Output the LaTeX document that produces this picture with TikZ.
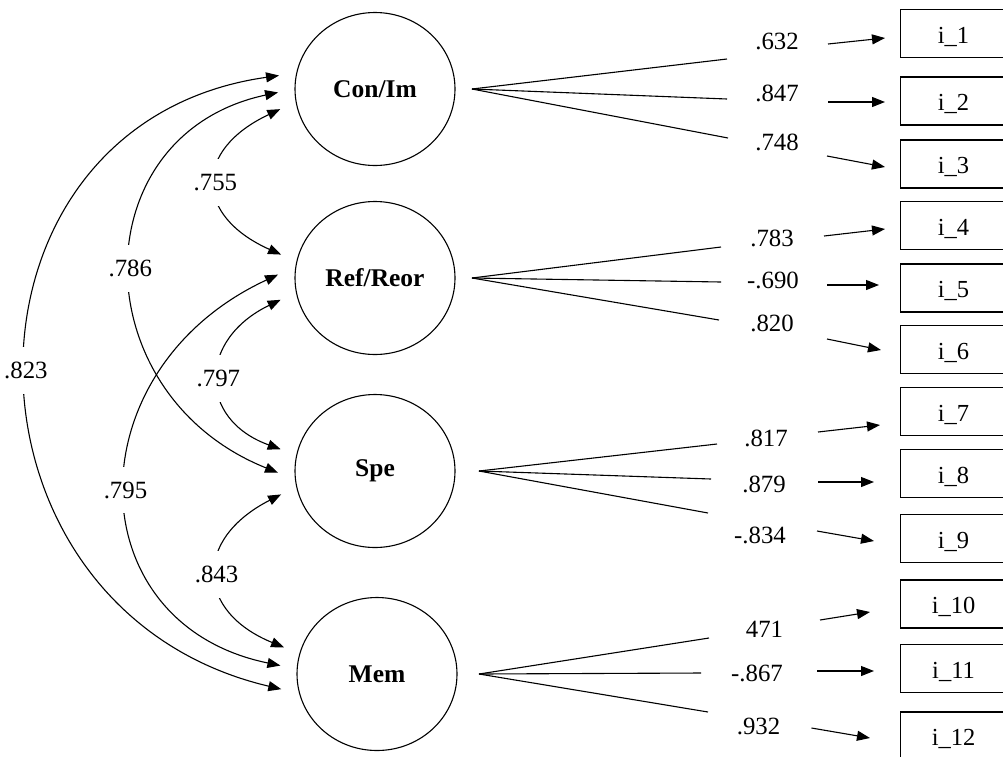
\documentclass[tikz,border=0pt]{standalone}
\usepackage{fontspec}
\setmainfont{Liberation Serif}
\usetikzlibrary{shapes.geometric,arrows.meta,positioning}

\begin{document}
\begin{tikzpicture}[x=1pt, y=-1pt, line width=1.1pt,
	>={Triangle[length=13pt,width=10pt]},
	every node/.style={font=\fontsize{24.8}{29}\selectfont},
	latent/.style={ellipse, draw, minimum width=160pt, minimum height=153pt, outer sep=17pt, font=\fontsize{25.5}{30}\selectfont\bfseries},
	item/.style={rectangle, draw, anchor=west, minimum width=106pt, minimum height=48pt, text height=19pt, text depth=0pt, font=\fontsize{24.5}{29}\selectfont},
	coef/.style={inner sep=2pt},
	corr/.style={fill=white, inner xsep=4pt, inner ysep=15pt}]
	\useasboundingbox (0,0) rectangle (1003,756);

	% factors
	\node[latent] (con) at (375,89) {Con/Im};
	\node[latent] (ref) at (375,278) {Ref/Reor};
	\node[latent] (spe) at (375,471) {Spe};
	\node[latent] (mem) at (377,674) {Mem};

	% observed items
	\node[item] (i1) at (900,33.5) {i\_1};
	\node[item] (i2) at (900,101) {i\_2};
	\node[item] (i3) at (900,164) {i\_3};
	\node[item] (i4) at (900,225.5) {i\_4};
	\node[item] (i5) at (900,288) {i\_5};
	\node[item] (i6) at (900,349.5) {i\_6};
	\node[item] (i7) at (900,411.5) {i\_7};
	\node[item] (i8) at (900,473.5) {i\_8};
	\node[item] (i9) at (900,538.5) {i\_9};
	\node[item] (i10) at (900,604) {i\_10};
	\node[item] (i11) at (900,668.5) {i\_11};
	\node[item] (i12) at (900,736) {i\_12};

	% loadings
	\node[coef] (l1) at (777,41) {.632};
	\node[coef] (l2) at (777,93.5) {.847};
	\node[coef] (l3) at (777,142) {.748};
	\node[coef] (l4) at (772,238) {.783};
	\node[coef] (l5) at (773,280) {-.690};
	\node[coef] (l6) at (772,323) {.820};
	\node[coef] (l7) at (766,438.5) {.817};
	\node[coef] (l8) at (764,484) {.879};
	\node[coef] (l9) at (760,535) {-.834};
	\node[coef] (l10) at (764.5,629.5) {471};
	\node[coef] (l11) at (757,673) {-.867};
	\node[coef] (l12) at (758.5,726) {.932};

	\coordinate (e1) at (727,59);
	\coordinate (e2) at (727,99);
	\coordinate (e3) at (728,138);
	\coordinate (e4) at (721,247);
	\coordinate (e5) at (721,282);
	\coordinate (e6) at (719,320);
	\coordinate (e7) at (717,444);
	\coordinate (e8) at (711,479);
	\coordinate (e9) at (708,513);
	\coordinate (e10) at (709,638);
	\coordinate (e11) at (701,673);
	\coordinate (e12) at (708,712);

	\draw (con.east) -- (e1);
	\draw (con.east) -- (e2);
	\draw (con.east) -- (e3);
	\draw (ref.east) -- (e4);
	\draw (ref.east) -- (e5);
	\draw (ref.east) -- (e6);
	\draw ([xshift=7pt]spe.east) -- (e7);
	\draw ([xshift=7pt]spe.east) -- (e8);
	\draw ([xshift=7pt]spe.east) -- (e9);
	\draw ([xshift=5pt]mem.east) -- (e10);
	\draw ([xshift=5pt]mem.east) -- (e11);
	\draw ([xshift=5pt]mem.east) -- (e12);

	\coordinate (s1) at (828,44);
	\coordinate (s2) at (828,102);
	\coordinate (s3) at (827,156);
	\coordinate (s4) at (824,236);
	\coordinate (s5) at (827,285);
	\coordinate (s6) at (827,339);
	\coordinate (s7) at (818,432);
	\coordinate (s8) at (818,482);
	\coordinate (s9) at (817,531);
	\coordinate (s10) at (820,620);
	\coordinate (s11) at (817,671);
	\coordinate (s12) at (811.5,728);

	\draw[->] (s1) -- ([xshift=-15pt,yshift=-4.5pt]i1.west);
	\draw[->] (s2) -- ([xshift=-15pt,yshift=-1pt]i2.west);
	\draw[->] (s3) -- ([xshift=-15pt,yshift=-3pt]i3.west);
	\draw[->] (s4) -- ([xshift=-15pt,yshift=-3.5pt]i4.west);
	\draw[->] (s5) -- ([xshift=-21pt,yshift=3pt]i5.west);
	\draw[->] (s6) -- ([xshift=-19pt,yshift=-0.5pt]i6.west);
	\draw[->] (s7) -- ([xshift=-20pt,yshift=-13.5pt]i7.west);
	\draw[->] (s8) -- ([xshift=-26pt,yshift=-8.5pt]i8.west);
	\draw[->] (s9) -- ([xshift=-26pt,yshift=-2.5pt]i9.west);
	\draw[->] (s10) -- ([xshift=-30pt,yshift=-8pt]i10.west);
	\draw[->] (s11) -- ([xshift=-26pt,yshift=-2.5pt]i11.west);
	\draw[->] (s12) -- ([xshift=-30pt,yshift=-2pt]i12.west);

	% correlations
	\draw[<->] (con.192) .. controls +(-87,41) and +(-87,-39) .. (ref.166) node[corr, pos=.5] (c1) {.755};
	\draw[<->] (con.182) .. controls +(-197,42) and +(-197,-79) .. (spe.181) node[corr, pos=.5] (c2) {.786};
	\draw[<->] (con.172) .. controls +(-339,48) and +(-339,-80) .. (mem.189) node[corr, pos=.5] (c3) {.823};
	\draw[<->] (ref.193) .. controls +(-83,40) and +(-83,-30) .. (spe.167) node[corr, pos=.5] (c4) {.797};
	\draw[<->] (ref.178) .. controls +(-205,95) and +(-205,-42) .. (mem.175) node[corr, pos=.5] (c5) {.795};
	\draw[<->] (spe.194) .. controls +(-88,45) and +(-88,-36) .. (mem.164) node[corr, pos=.5] (c6) {.843};
\end{tikzpicture}
\end{document}
